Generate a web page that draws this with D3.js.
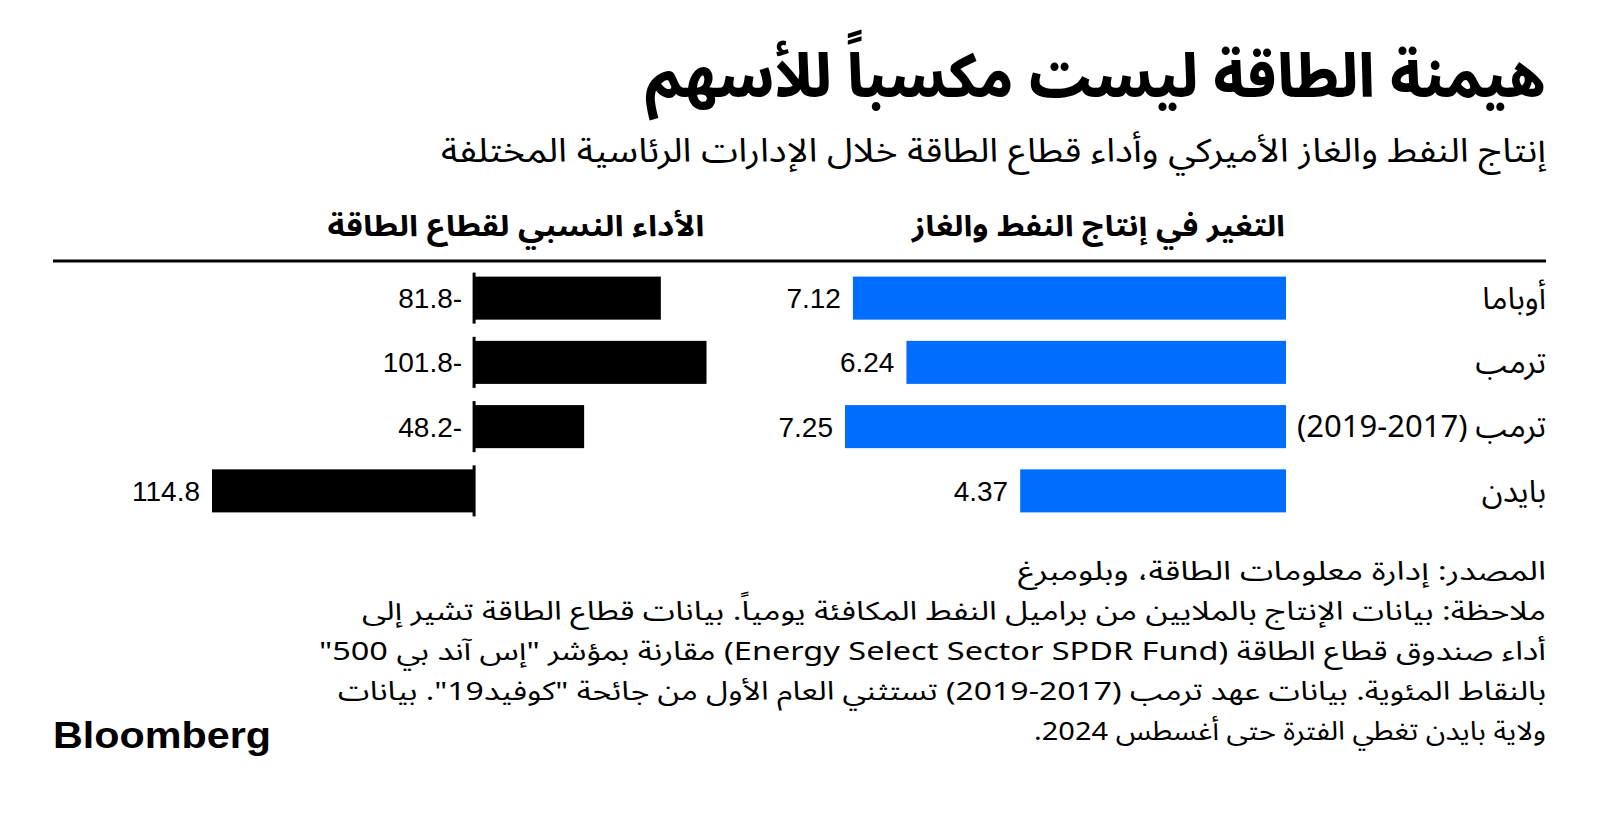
<!DOCTYPE html>
<html>
<head>
<meta charset="utf-8">
<script src="https://cdn.jsdelivr.net/npm/d3@7"></script>
<style>
  html, body { margin: 0; padding: 0; background: #fff; }
  svg { display: block; }
  .ar { font-family: "Noto Sans Arabic", "Noto Kufi Arabic", "DejaVu Sans", sans-serif; }
  .num { font-family: "Liberation Sans", Arial, sans-serif; }
</style>
</head>
<body>
<svg id="chart" width="1600" height="815"></svg>
<script>
const title = "هيمنة الطاقة ليست مكسباً للأسهم";
const subtitle = "إنتاج النفط والغاز الأميركي وأداء قطاع الطاقة خلال الإدارات الرئاسية المختلفة";
const headers = ["التغير في إنتاج النفط والغاز", "الأداء النسبي لقطاع الطاقة"];
const categories = ["أوباما", "ترمب", "ترمب (2017-2019)", "بايدن"];
const production = [7.12, 6.24, 7.25, 4.37];
const performance = [-81.8, -101.8, -48.2, 114.8];
const notes = [
  "المصدر: إدارة معلومات الطاقة، وبلومبرغ",
  "ملاحظة: بيانات الإنتاج بالملايين من براميل النفط المكافئة يومياً. بيانات قطاع الطاقة تشير إلى",
  "أداء صندوق قطاع الطاقة (Energy Select Sector SPDR Fund) مقارنة بمؤشر \"إس آند بي 500\"",
  "بالنقاط المئوية. بيانات عهد ترمب (2017-2019) تستثني العام الأول من جائحة \"كوفيد19\". بيانات",
  "ولاية بايدن تغطي الفترة حتى أغسطس 2024."
];
const brand = "Bloomberg";

const svg = d3.select("#chart");
const RIGHT = 1546;

const rows = categories.map((c, i) => ({cat: c, prod: production[i], perf: performance[i]}));

// Title & subtitle
svg.append("text").attr("class", "ar")
  .attr("x", RIGHT).attr("y", 97)
  .attr("direction", "rtl").attr("text-anchor", "start")
  .attr("font-size", 60).attr("font-weight", 800)
  .attr("textLength", 901).attr("lengthAdjust", "spacingAndGlyphs")
  .text(title);

svg.append("text").attr("class", "ar")
  .attr("x", RIGHT).attr("y", 162)
  .attr("direction", "rtl").attr("text-anchor", "start")
  .attr("font-size", 33)
  .attr("textLength", 1105).attr("lengthAdjust", "spacingAndGlyphs")
  .text(subtitle);

// Scales
const y = d3.scaleBand().domain(categories).range([266, 523]).paddingInner(0.33).paddingOuter(0.165);
const xProd = d3.scaleLinear().domain([0, 7.25]).range([1286, 845]);
const xPerf = d3.scaleLinear().domain([-101.8, 114.8]).range([706.5, 212]);

// Column headers
svg.append("text").attr("class", "ar")
  .attr("x", xProd(0) - 1).attr("y", 236)
  .attr("direction", "rtl").attr("text-anchor", "start")
  .attr("font-size", 29).attr("font-weight", 700)
  .attr("textLength", 373).attr("lengthAdjust", "spacingAndGlyphs")
  .text(headers[0]);
svg.append("text").attr("class", "ar")
  .attr("x", xPerf(-101.8) - 2).attr("y", 236)
  .attr("direction", "rtl").attr("text-anchor", "start")
  .attr("font-size", 29).attr("font-weight", 700)
  .attr("textLength", 377).attr("lengthAdjust", "spacingAndGlyphs")
  .text(headers[1]);

// Header rule
svg.append("line")
  .attr("x1", 53).attr("x2", RIGHT).attr("y1", 261).attr("y2", 261)
  .attr("stroke", "#000").attr("stroke-width", 3);

// Category labels
svg.append("g").selectAll("text").data(rows).join("text")
  .attr("class", "ar")
  .attr("x", RIGHT)
  .attr("y", d => y(d.cat) + y.bandwidth() / 2)
  .attr("dy", "0.35em")
  .attr("direction", "rtl").attr("text-anchor", "start")
  .attr("font-size", 31)
  .text(d => d.cat);

// Production bars
svg.append("g").selectAll("rect").data(rows).join("rect")
  .attr("x", d => xProd(d.prod))
  .attr("width", d => xProd(0) - xProd(d.prod))
  .attr("y", d => y(d.cat))
  .attr("height", y.bandwidth())
  .attr("fill", "#006dff");

svg.append("g").selectAll("text").data(rows).join("text")
  .attr("class", "num")
  .attr("x", d => xProd(d.prod) - 12)
  .attr("y", d => y(d.cat) + y.bandwidth() / 2)
  .attr("dy", "0.36em")
  .attr("text-anchor", "end")
  .attr("font-size", 28)
  .attr("fill", "#000")
  .text(d => d.prod.toFixed(2));

// Performance bars
svg.append("g").selectAll("rect").data(rows).join("rect")
  .attr("x", d => Math.min(xPerf(0), xPerf(d.perf)))
  .attr("width", d => Math.abs(xPerf(d.perf) - xPerf(0)))
  .attr("y", d => y(d.cat))
  .attr("height", y.bandwidth())
  .attr("fill", "#000");

// zero ticks
svg.append("g").selectAll("line").data(rows).join("line")
  .attr("x1", xPerf(0)).attr("x2", xPerf(0))
  .attr("y1", d => y(d.cat) - 4)
  .attr("y2", d => y(d.cat) + y.bandwidth() + 4)
  .attr("stroke", "#000").attr("stroke-width", 3);

svg.append("g").selectAll("text").data(rows).join("text")
  .attr("class", "num")
  .attr("x", d => Math.min(xPerf(0), xPerf(d.perf)) - 12)
  .attr("y", d => y(d.cat) + y.bandwidth() / 2)
  .attr("dy", "0.36em")
  .attr("text-anchor", "end")
  .attr("font-size", 28)
  .attr("fill", "#000")
  .text(d => Math.abs(d.perf).toFixed(1) + (d.perf < 0 ? "-" : ""));

// Notes
const noteWidths = [528, 1184, 1227, 1208, 512];
svg.append("g").selectAll("text").data(notes).join("text")
  .attr("class", "ar")
  .attr("x", RIGHT)
  .attr("y", (d, i) => 580 + i * 40)
  .attr("direction", "rtl").attr("text-anchor", "start")
  .attr("font-size", 26)
  .attr("textLength", (d, i) => noteWidths[i]).attr("lengthAdjust", "spacingAndGlyphs")
  .text(d => d);

// Brand
svg.append("text")
  .attr("x", 53).attr("y", 748)
  .attr("font-family", "'Liberation Sans', Arial, sans-serif")
  .attr("font-weight", 700)
  .attr("font-size", 37)
  .attr("textLength", 218).attr("lengthAdjust", "spacingAndGlyphs")
  .text(brand);
</script>
</body>
</html>
